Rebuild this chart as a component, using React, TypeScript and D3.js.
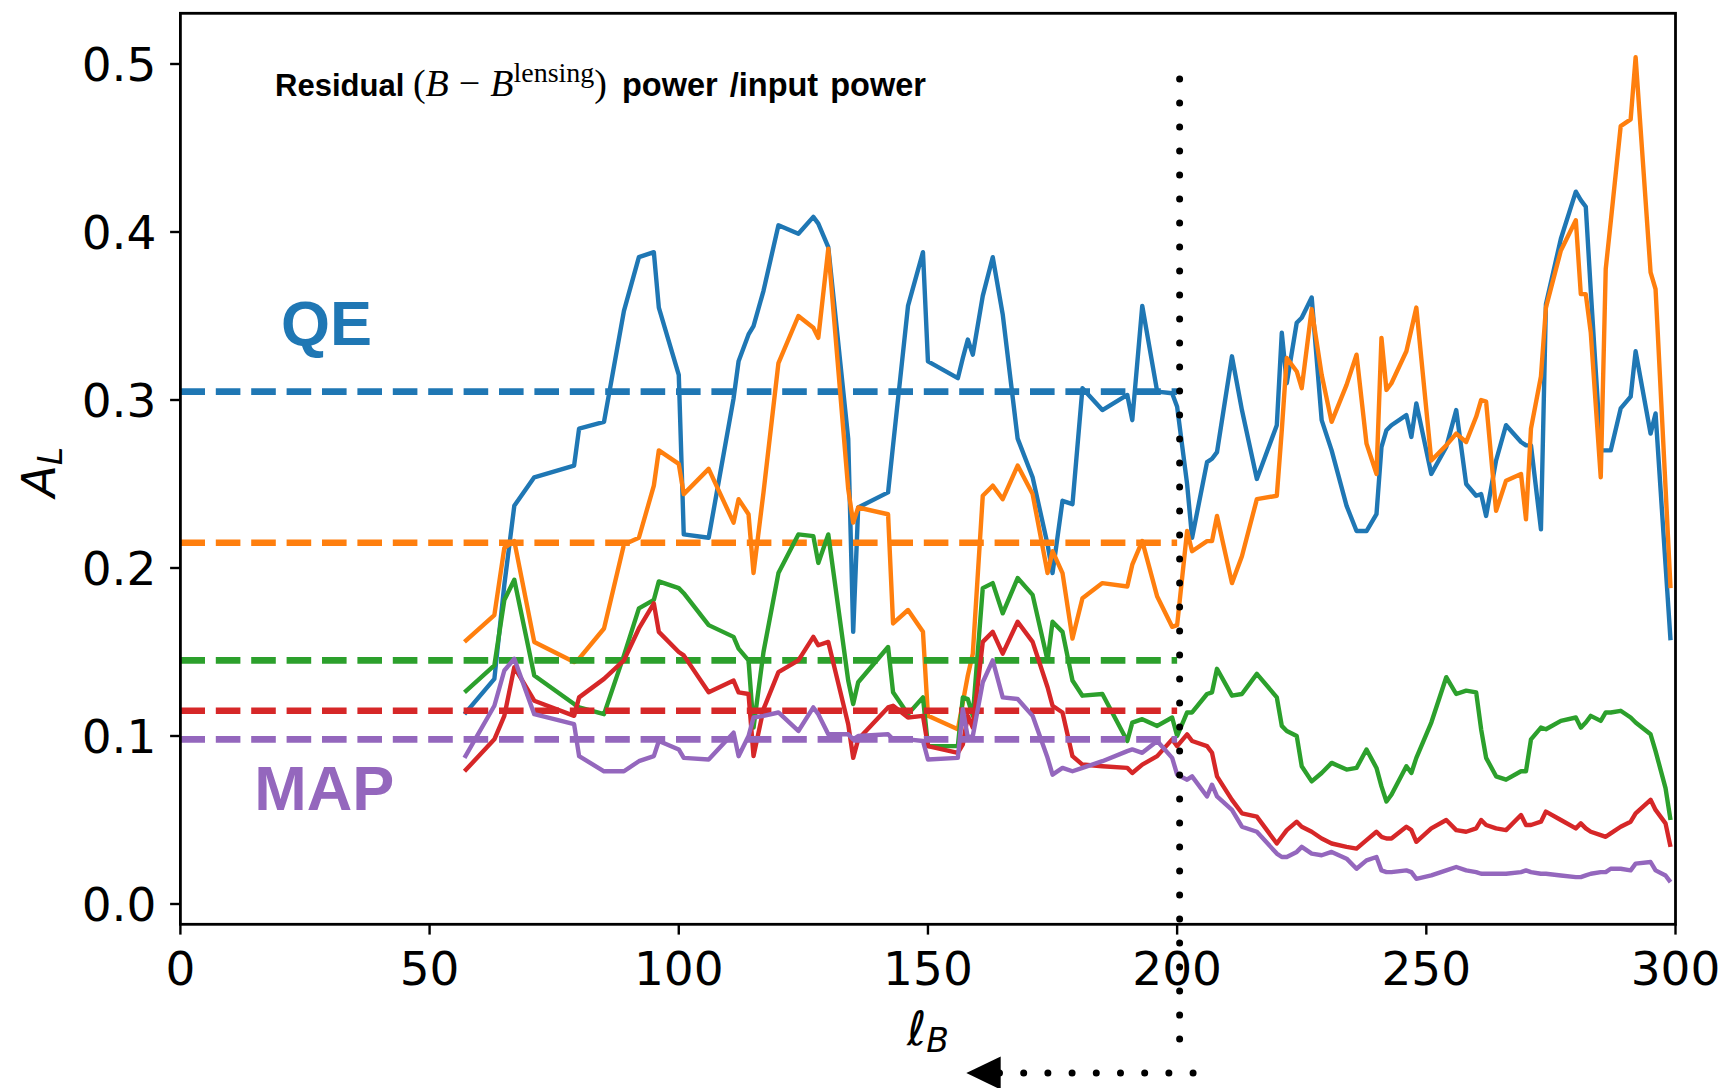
import React from 'react';
import * as d3 from 'd3';

const ell = [57, 63, 65, 67, 71, 79, 80, 85, 89, 92, 95, 96, 100, 101, 106, 111, 112, 114, 115, 117, 120, 124, 127, 128, 130, 134, 135, 136, 142, 143, 146, 149, 150, 156, 157, 158, 159, 161, 163, 165, 168, 171, 174, 175, 177, 179, 181, 185, 190, 191, 193, 196, 199, 200, 202, 203, 206, 207, 208, 211, 213, 216, 220, 221, 222, 224, 225, 227, 229, 231, 234, 236, 238, 240, 241, 242, 243, 246, 247, 248, 251, 254, 256, 258, 260, 261, 262, 264, 266, 269, 270, 271, 273, 274, 277, 280, 281, 282, 283, 285, 286, 287, 289, 291, 292, 295, 296, 298, 299];

const blue = [0.113, 0.134, 0.190, 0.237, 0.254, 0.261, 0.283, 0.287, 0.353, 0.385, 0.388, 0.355, 0.315, 0.220, 0.218, 0.301, 0.323, 0.339, 0.344, 0.365, 0.404, 0.399, 0.409, 0.405, 0.391, 0.277, 0.162, 0.236, 0.245, 0.273, 0.356, 0.388, 0.323, 0.313, 0.325, 0.336, 0.327, 0.362, 0.385, 0.351, 0.277, 0.254, 0.214, 0.197, 0.240, 0.238, 0.307, 0.294, 0.303, 0.288, 0.356, 0.305, 0.304, 0.296, 0.250, 0.218, 0.263, 0.265, 0.269, 0.326, 0.294, 0.253, 0.285, 0.340, 0.310, 0.346, 0.349, 0.361, 0.288, 0.270, 0.237, 0.222, 0.222, 0.232, 0.272, 0.282, 0.285, 0.291, 0.278, 0.298, 0.256, 0.272, 0.294, 0.250, 0.243, 0.244, 0.231, 0.264, 0.285, 0.275, 0.273, 0.273, 0.223, 0.357, 0.396, 0.424, 0.419, 0.415, 0.365, 0.270, 0.270, 0.270, 0.295, 0.302, 0.329, 0.280, 0.292, 0.202, 0.157];

const orange = [0.156, 0.172, 0.212, 0.216, 0.156, 0.144, 0.146, 0.164, 0.214, 0.218, 0.249, 0.270, 0.262, 0.244, 0.259, 0.227, 0.241, 0.232, 0.197, 0.245, 0.322, 0.350, 0.343, 0.337, 0.390, 0.247, 0.227, 0.236, 0.232, 0.167, 0.175, 0.162, 0.112, 0.104, 0.120, 0.136, 0.149, 0.243, 0.249, 0.241, 0.261, 0.244, 0.197, 0.210, 0.197, 0.158, 0.182, 0.191, 0.189, 0.202, 0.216, 0.183, 0.165, 0.166, 0.222, 0.210, 0.216, 0.216, 0.231, 0.191, 0.207, 0.241, 0.243, 0.282, 0.325, 0.317, 0.307, 0.354, 0.315, 0.287, 0.309, 0.327, 0.274, 0.256, 0.337, 0.306, 0.310, 0.329, 0.342, 0.355, 0.264, 0.273, 0.280, 0.275, 0.290, 0.300, 0.299, 0.234, 0.252, 0.256, 0.229, 0.283, 0.314, 0.355, 0.389, 0.407, 0.363, 0.363, 0.340, 0.254, 0.378, 0.406, 0.463, 0.467, 0.504, 0.376, 0.366, 0.248, 0.188];

const green = [0.126, 0.142, 0.181, 0.193, 0.136, 0.119, 0.117, 0.113, 0.148, 0.176, 0.181, 0.192, 0.188, 0.185, 0.166, 0.159, 0.152, 0.145, 0.105, 0.150, 0.197, 0.220, 0.219, 0.203, 0.220, 0.133, 0.119, 0.132, 0.153, 0.126, 0.113, 0.123, 0.094, 0.094, 0.123, 0.122, 0.112, 0.188, 0.191, 0.173, 0.194, 0.184, 0.145, 0.168, 0.162, 0.133, 0.124, 0.125, 0.097, 0.108, 0.110, 0.106, 0.111, 0.100, 0.114, 0.114, 0.125, 0.126, 0.140, 0.124, 0.125, 0.137, 0.123, 0.106, 0.103, 0.100, 0.082, 0.073, 0.078, 0.084, 0.080, 0.081, 0.092, 0.081, 0.070, 0.061, 0.065, 0.082, 0.078, 0.087, 0.108, 0.135, 0.125, 0.127, 0.126, 0.104, 0.087, 0.076, 0.074, 0.079, 0.079, 0.098, 0.105, 0.104, 0.109, 0.111, 0.105, 0.108, 0.112, 0.109, 0.114, 0.114, 0.115, 0.111, 0.108, 0.101, 0.091, 0.069, 0.050];

const red = [0.079, 0.098, 0.112, 0.141, 0.121, 0.112, 0.123, 0.134, 0.145, 0.164, 0.179, 0.162, 0.150, 0.148, 0.126, 0.133, 0.126, 0.125, 0.088, 0.116, 0.138, 0.145, 0.159, 0.154, 0.156, 0.107, 0.087, 0.098, 0.117, 0.118, 0.111, 0.112, 0.094, 0.090, 0.095, 0.112, 0.105, 0.156, 0.162, 0.149, 0.168, 0.156, 0.129, 0.118, 0.114, 0.088, 0.083, 0.082, 0.081, 0.078, 0.083, 0.088, 0.098, 0.094, 0.101, 0.097, 0.094, 0.090, 0.076, 0.062, 0.054, 0.052, 0.036, 0.040, 0.044, 0.049, 0.046, 0.043, 0.039, 0.036, 0.034, 0.033, 0.038, 0.043, 0.040, 0.039, 0.039, 0.046, 0.044, 0.037, 0.045, 0.050, 0.044, 0.043, 0.045, 0.050, 0.047, 0.045, 0.044, 0.053, 0.047, 0.047, 0.049, 0.055, 0.050, 0.045, 0.048, 0.045, 0.043, 0.041, 0.040, 0.042, 0.046, 0.049, 0.054, 0.062, 0.056, 0.048, 0.034];

const purple = [0.087, 0.118, 0.139, 0.146, 0.113, 0.107, 0.088, 0.079, 0.079, 0.085, 0.088, 0.097, 0.092, 0.087, 0.086, 0.102, 0.088, 0.100, 0.111, 0.112, 0.114, 0.103, 0.117, 0.113, 0.101, 0.101, 0.098, 0.100, 0.101, 0.098, 0.098, 0.097, 0.086, 0.087, 0.116, 0.099, 0.100, 0.132, 0.145, 0.123, 0.122, 0.112, 0.087, 0.077, 0.081, 0.079, 0.081, 0.085, 0.091, 0.092, 0.090, 0.097, 0.087, 0.077, 0.074, 0.076, 0.064, 0.071, 0.064, 0.056, 0.046, 0.043, 0.030, 0.028, 0.028, 0.031, 0.034, 0.030, 0.029, 0.031, 0.027, 0.021, 0.026, 0.028, 0.020, 0.019, 0.019, 0.020, 0.019, 0.015, 0.017, 0.020, 0.022, 0.020, 0.019, 0.018, 0.018, 0.018, 0.018, 0.019, 0.020, 0.019, 0.018, 0.018, 0.017, 0.016, 0.016, 0.017, 0.018, 0.019, 0.019, 0.021, 0.021, 0.020, 0.024, 0.025, 0.020, 0.017, 0.013];

// mean A_L over ell < 200, drawn dashed
const means = [0.305, 0.215, 0.145, 0.115, 0.098];
const colors = ['#1f77b4', '#ff7f0e', '#2ca02c', '#d62728', '#9467bd'];
const seriesList = [blue, orange, green, red, purple];

const xTicks = [0, 50, 100, 150, 200, 250, 300];
const yTicks = [0.0, 0.1, 0.2, 0.3, 0.4, 0.5];

const W = 1730;
const H = 1088;
const left = 180.4;
const right = 1675.5;
const top = 13.3;
const bottom = 924.3;

function App() {
  const x = d3.scaleLinear().domain([0, 300]).range([left, right]);
  // 0.0 at 904, 0.5 at 64
  const y = d3.scaleLinear().domain([0, 0.5]).range([904, 64]);

  const line = d3
    .line<number>()
    .x((d, i) => x(ell[i]))
    .y(d => y(d));

  const tickFont = '"DejaVu Sans", sans-serif';
  const sansBold = '"Liberation Sans", Arial, sans-serif';
  const serif = '"Liberation Serif", "Times New Roman", serif';
  const vx = x(200.5);

  return (
    <svg
      width={W}
      height={H}
      style={{ position: 'absolute', left: 0, top: 0, background: '#fff' }}
    >
      <defs>
        <clipPath id="plot">
          <rect x={left} y={top} width={right - left} height={bottom - top} />
        </clipPath>
      </defs>

      <g clipPath="url(#plot)">
        {seriesList.map((s, k) => (
          <g key={k}>
            <path
              d={line(s) as string}
              fill="none"
              stroke={colors[k]}
              strokeWidth={4.4}
              strokeLinejoin="round"
            />
            <line
              x1={x(0)}
              x2={x(200)}
              y1={y(means[k])}
              y2={y(means[k])}
              stroke={colors[k]}
              strokeWidth={6.6}
              strokeDasharray="24.6 10.8"
            />
          </g>
        ))}
      </g>

      {/* dotted divider at ell ~ 200 with arrow pointing left */}
      <line
        x1={vx}
        x2={vx}
        y1={y(0.491)}
        y2={y(-0.081)}
        stroke="#000"
        strokeWidth={7}
        strokeLinecap="round"
        strokeDasharray="0 24"
      />
      <line
        x1={x(203.2)}
        x2={x(160.4)}
        y1={y(-0.1006)}
        y2={y(-0.1006)}
        stroke="#000"
        strokeWidth={7}
        strokeLinecap="round"
        strokeDasharray="0 24.2"
      />
      <path
        d={`M${x(157.7)},${y(-0.1006)} L${x(164.6)},${y(-0.1006) - 16.6} L${x(164.6)},${y(-0.1006) + 16.6} Z`}
        fill="#000"
      />

      {/* frame */}
      <rect
        x={left}
        y={top}
        width={right - left}
        height={bottom - top}
        fill="none"
        stroke="#000"
        strokeWidth={2.8}
      />

      {xTicks.map(t => (
        <g key={t} transform={`translate(${x(t)},${bottom})`}>
          <line y2={10.3} stroke="#000" strokeWidth={2.4} />
          <text
            y={61}
            textAnchor="middle"
            fontFamily={tickFont}
            fontSize={47}
            fill="#000"
          >
            {t}
          </text>
        </g>
      ))}
      {yTicks.map(t => (
        <g key={t} transform={`translate(${left},${y(t)})`}>
          <line x2={-10.3} stroke="#000" strokeWidth={2.4} />
          <text
            x={-24}
            y={17}
            textAnchor="end"
            fontFamily={tickFont}
            fontSize={47}
            fill="#000"
          >
            {t.toFixed(1)}
          </text>
        </g>
      ))}

      {/* axis labels */}
      <text
        x={(left + right) / 2}
        y={1045}
        textAnchor="middle"
        fontFamily={tickFont}
        fontSize={47}
        fontStyle="italic"
      >
        ℓ
        <tspan fontSize={33} dy={7}>
          B
        </tspan>
      </text>
      <text
        transform={`translate(55,472) rotate(-90)`}
        textAnchor="middle"
        fontFamily={tickFont}
        fontSize={47}
        fontStyle="italic"
      >
        A
        <tspan fontSize={33} dy={7}>
          L
        </tspan>
      </text>

      {/* annotations */}
      <text
        x={x(19)}
        y={y(0.481)}
        fontFamily={sansBold}
        fontWeight="bold"
        fontSize={31}
        fill="#000"
      >
        Residual{' '}
        <tspan fontFamily={serif} fontWeight="normal" fontSize={38}>
          (<tspan fontStyle="italic">B</tspan>
          <tspan dx={10}>−</tspan>
          <tspan dx={10} fontStyle="italic">B</tspan>
          <tspan fontSize={28} dy={-14}>
            lensing
          </tspan>
          <tspan dy={14}>)</tspan>
        </tspan>
        <tspan x={622} fontSize={32.5} wordSpacing={3}>
          power /input power
        </tspan>
      </text>
      <text
        x={x(20.2)}
        y={y(0.333)}
        fontFamily={sansBold}
        fontWeight="bold"
        fontSize={63}
        fill={colors[0]}
      >
        QE
      </text>
      <text
        x={x(14.8)}
        y={y(0.056)}
        fontFamily={sansBold}
        fontWeight="bold"
        fontSize={63}
        fill={colors[4]}
      >
        MAP
      </text>
    </svg>
  );
}

export default App;
